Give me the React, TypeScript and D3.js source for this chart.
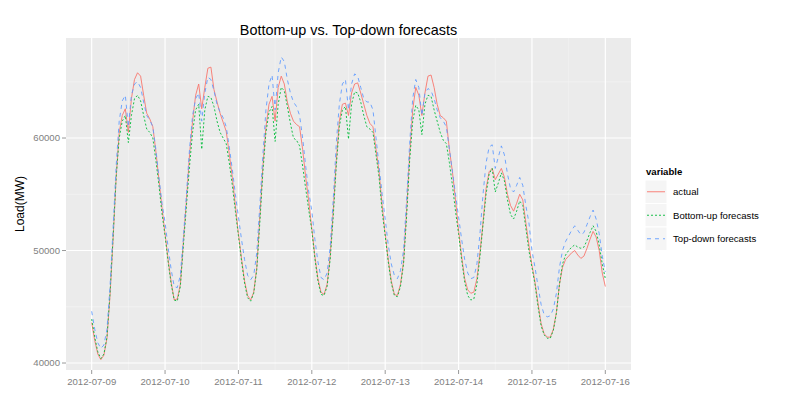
import * as d3 from "d3";

// hourly load, 2012-07-09 00:00 .. 2012-07-16 00:00
const startDate = "2012-07-09T00:00:00Z";

const seriesNames = ["actual", "Bottom-up forecasts", "Top-down forecasts"];

const actual = [
  43600, 42000, 40800, 40300, 40700, 42200, 46000, 51000, 56500, 60500, 62000, 62600,
  60500, 63500, 65200, 65800, 65500, 63800, 62200, 61700, 61000, 58800, 56300, 53800,
  51500, 49200, 47200, 45600, 45700, 47000, 50800, 54500, 58500, 61500, 63800, 64800,
  62600, 64500, 66200, 66300, 64300, 63200, 62200, 61400, 60600, 58600, 56500, 54000,
  51500, 49300, 47300, 46000, 45600, 46300, 48500, 53000, 57500, 61000, 63000, 63700,
  61500, 64500, 65500, 64800, 63200, 62200, 61500, 61200, 61000, 59000, 56500, 54400,
  52000, 49500, 47500, 46300, 46100, 47000, 49500, 53500, 58000, 61500, 63000, 63100,
  62000, 64000, 64800, 64900, 64000, 63000, 62000, 61300, 61000, 59000, 57000, 54000,
  51500, 49200, 47300, 46100, 46000, 47000, 49000, 53500, 58500, 62500, 64500, 63800,
  62000, 64000, 65500, 65600, 64500, 63000, 62000, 61800, 61500, 59000, 57000, 54500,
  51800, 49500, 47500, 46500, 46200, 46300, 47500, 49800, 52500, 55500, 57000, 57300,
  56300, 56800, 57300, 56500, 55000, 54000, 53500, 54200, 55000, 54500, 52500, 50500,
  48700, 47200, 45300, 43500, 42600, 42300, 42300, 43000, 44500, 47000, 48500, 49200,
  49500, 49800, 50000, 49600, 49300, 49500, 50200, 51000, 51700, 51200, 50000, 48000,
  46800,
];

const bottomUp = [
  43900, 42300, 41000, 40400, 40800, 42300, 46200, 51200, 56500, 60000, 61500, 62000,
  59600, 62000, 63500, 63800, 63300, 62000, 60800, 60500, 60000, 58000, 55800, 53300,
  51300, 49000, 47000, 45600, 45500, 46800, 50500, 54000, 57500, 60500, 62500, 63000,
  59000, 62500, 63700, 63600, 62800, 61500, 60500, 60000, 59500, 57800, 55800, 53500,
  51300, 49100, 47100, 45800, 45500, 46200, 48300, 52500, 57000, 60500, 62300, 62800,
  59700, 63000, 64500, 64200, 62800, 61300, 60000, 59800, 59300, 57500, 55500, 53600,
  51800, 49300, 47300, 46100, 46000, 46800, 49200, 53000, 57500, 61000, 62500, 62800,
  59900, 63000, 64100, 64000, 63200, 62000, 61000, 60800, 60500, 58500, 56500, 53500,
  51300, 49000, 47100, 46000, 45900, 46800, 48800, 53000, 58000, 61500, 62900, 62500,
  60300, 63000, 63800, 63700, 62500, 61500, 60500, 59800, 59500, 57800, 55800, 53500,
  51500, 49200, 47200, 46000, 45600, 45700, 47000, 49500, 52300, 55000, 56800, 57300,
  55200, 56000, 56900, 56200, 54500, 53200, 52800, 53500, 54400, 54000, 52000, 50000,
  48500, 47000, 45000, 43300, 42500, 42200, 42200, 42900, 44400, 47000, 48800, 49600,
  50000, 50300, 50500, 50300, 50200, 50300, 50900, 51600, 52200, 51700, 50500, 48800,
  47500,
];

const topDown = [
  44600, 43000, 41800, 41300, 41600, 43000, 46800, 52000, 57500, 61500, 63300, 63800,
  61000, 63800, 64800, 65000, 64500, 63200, 62000, 61600, 61000, 59000, 56500, 54200,
  52500, 50300, 48300, 46800, 46700, 47800, 51200, 55000, 59000, 62000, 63500, 64000,
  61500, 64000, 65400, 65200, 64200, 63000, 62300, 61800, 61000, 59200, 57200, 55000,
  53000, 51000, 49200, 47800, 47400, 47800, 49800, 54000, 58500, 62500, 64800, 65600,
  62500, 65800, 67200, 66800, 65200, 64000, 63200, 62800, 62000, 60000, 57500, 55200,
  53500, 51000, 49000, 47600, 47400, 48000, 50300, 54500, 59500, 63000, 64800, 65200,
  62500, 64800, 65700, 65500, 64500, 63500, 63200, 63200, 62500, 60000, 57500, 55000,
  52800, 50500, 48800, 47800, 47500, 48200, 50000, 54500, 59500, 63500, 65200, 64500,
  62000, 64000, 64400, 64200, 63500, 62500, 61800, 61500, 61000, 59000, 57000, 55000,
  53000, 51000, 49200, 48000, 47500, 47600, 48800, 51500, 55000, 57800, 59200, 59400,
  57300, 58300, 59300, 58500, 56800, 55500, 55200, 55800, 56500, 55800, 54000, 52500,
  50000, 48500, 46800, 45200, 44300, 44100, 44200, 44800, 46200, 48500, 50000, 50800,
  51300, 51800, 52200, 51800, 51400, 51600, 52300, 53000, 53600, 52800, 51500, 49500,
  48100,
];

const yTicks = [40000, 50000, 60000];
const yMinor = [45000, 55000, 65000];

const colors = ["#F8766D", "#00BA38", "#619CFF"];
const dashes = ["none", "2 2", "4 4"];

const font = "'Liberation Sans', Arial, Helvetica, sans-serif";

export default function App() {
  const width = 800;
  const height = 400;
  const panel = { left: 66, right: 631, top: 38, bottom: 370 };

  const t0 = new Date(startDate);
  const times = actual.map((_, i) => d3.utcHour.offset(t0, i));
  const [tMin, tMax] = d3.extent(times) as [Date, Date];
  const pad = (tMax.getTime() - tMin.getTime()) * 0.05;

  const x = d3
    .scaleUtc()
    .domain([new Date(tMin.getTime() - pad), new Date(tMax.getTime() + pad)])
    .range([panel.left, panel.right]);

  const y = d3.scaleLinear().domain([39380, 68890]).range([panel.bottom, panel.top]);

  const dayTicks = d3.utcDay.range(tMin, d3.utcDay.offset(tMax, 1));
  const halfDays = dayTicks.slice(0, -1).map((d) => d3.utcHour.offset(d, 12));
  const fmt = d3.utcFormat("%Y-%m-%d");

  const allSeries = [actual, bottomUp, topDown];

  const pathFor = (vals: number[]) =>
    d3
      .line<number>()
      .x((_, i) => x(times[i]))
      .y((v) => y(v))(vals) ?? "";

  const legendX = 645;
  const legendTop = 180;
  const keyH = 23.5;
  const keyW = 22;

  return (
    <svg
      width={width}
      height={height}
      style={{ position: "absolute", left: 0, top: 0, background: "#fff" }}
      fontFamily={font}
    >
      <rect width={width} height={height} fill="#fff" />

      <text x={(panel.left + panel.right) / 2} y={35} textAnchor="middle" fontSize={14.4} fill="#000">
        Bottom-up vs. Top-down forecasts
      </text>

      <rect
        x={panel.left}
        y={panel.top}
        width={panel.right - panel.left}
        height={panel.bottom - panel.top}
        fill="#EBEBEB"
      />

      {yMinor.map((v) => (
        <line key={"ym" + v} x1={panel.left} x2={panel.right} y1={y(v)} y2={y(v)} stroke="#F5F5F5" strokeWidth={0.6} />
      ))}
      {halfDays.map((d) => (
        <line key={"xm" + d.getTime()} x1={x(d)} x2={x(d)} y1={panel.top} y2={panel.bottom} stroke="#F5F5F5" strokeWidth={0.6} />
      ))}
      {yTicks.map((v) => (
        <line key={"yg" + v} x1={panel.left} x2={panel.right} y1={y(v)} y2={y(v)} stroke="#fff" strokeWidth={1.2} />
      ))}
      {dayTicks.map((d) => (
        <line key={"xg" + d.getTime()} x1={x(d)} x2={x(d)} y1={panel.top} y2={panel.bottom} stroke="#fff" strokeWidth={1.2} />
      ))}

      <g clipPath="url(#panelClip)">
        {allSeries.map((vals, i) => (
          <path
            key={seriesNames[i]}
            d={pathFor(vals)}
            fill="none"
            stroke={colors[i]}
            strokeWidth={0.9}
            strokeDasharray={dashes[i]}
          />
        ))}
      </g>
      <defs>
        <clipPath id="panelClip">
          <rect x={panel.left} y={panel.top} width={panel.right - panel.left} height={panel.bottom - panel.top} />
        </clipPath>
      </defs>

      {/* y axis */}
      {yTicks.map((v) => (
        <g key={"yt" + v}>
          <line x1={panel.left - 4} x2={panel.left} y1={y(v)} y2={y(v)} stroke="#7F7F7F" strokeWidth={0.8} />
          <text x={panel.left - 6} y={y(v)} dy="0.35em" textAnchor="end" fontSize={9.6} fill="#7F7F7F">
            {v}
          </text>
        </g>
      ))}
      <text
        transform={`translate(${24},${(panel.top + panel.bottom) / 2}) rotate(-90)`}
        textAnchor="middle"
        fontSize={12}
        fill="#000"
      >
        Load(MW)
      </text>

      {/* x axis */}
      {dayTicks.map((d) => (
        <g key={"xt" + d.getTime()}>
          <line x1={x(d)} x2={x(d)} y1={panel.bottom} y2={panel.bottom + 4} stroke="#7F7F7F" strokeWidth={0.8} />
          <text x={x(d)} y={panel.bottom + 15} textAnchor="middle" fontSize={9.6} fill="#7F7F7F">
            {fmt(d)}
          </text>
        </g>
      ))}

      {/* legend */}
      <text x={legendX + 1} y={legendTop - 5} fontSize={9.6} fontWeight="bold" fill="#000">
        variable
      </text>
      {seriesNames.map((name, i) => {
        const ky = legendTop + i * keyH;
        return (
          <g key={"lg" + name}>
            <rect x={legendX} y={ky} width={keyW} height={keyH} fill="#F5F5F5" stroke="#fff" strokeWidth={1} />
            <line
              x1={legendX + 2}
              x2={legendX + keyW - 2}
              y1={ky + keyH / 2}
              y2={ky + keyH / 2}
              stroke={colors[i]}
              strokeWidth={0.9}
              strokeDasharray={dashes[i]}
            />
            <text x={legendX + keyW + 6} y={ky + keyH / 2} dy="0.35em" fontSize={9.6} fill="#000">
              {name}
            </text>
          </g>
        );
      })}
    </svg>
  );
}
